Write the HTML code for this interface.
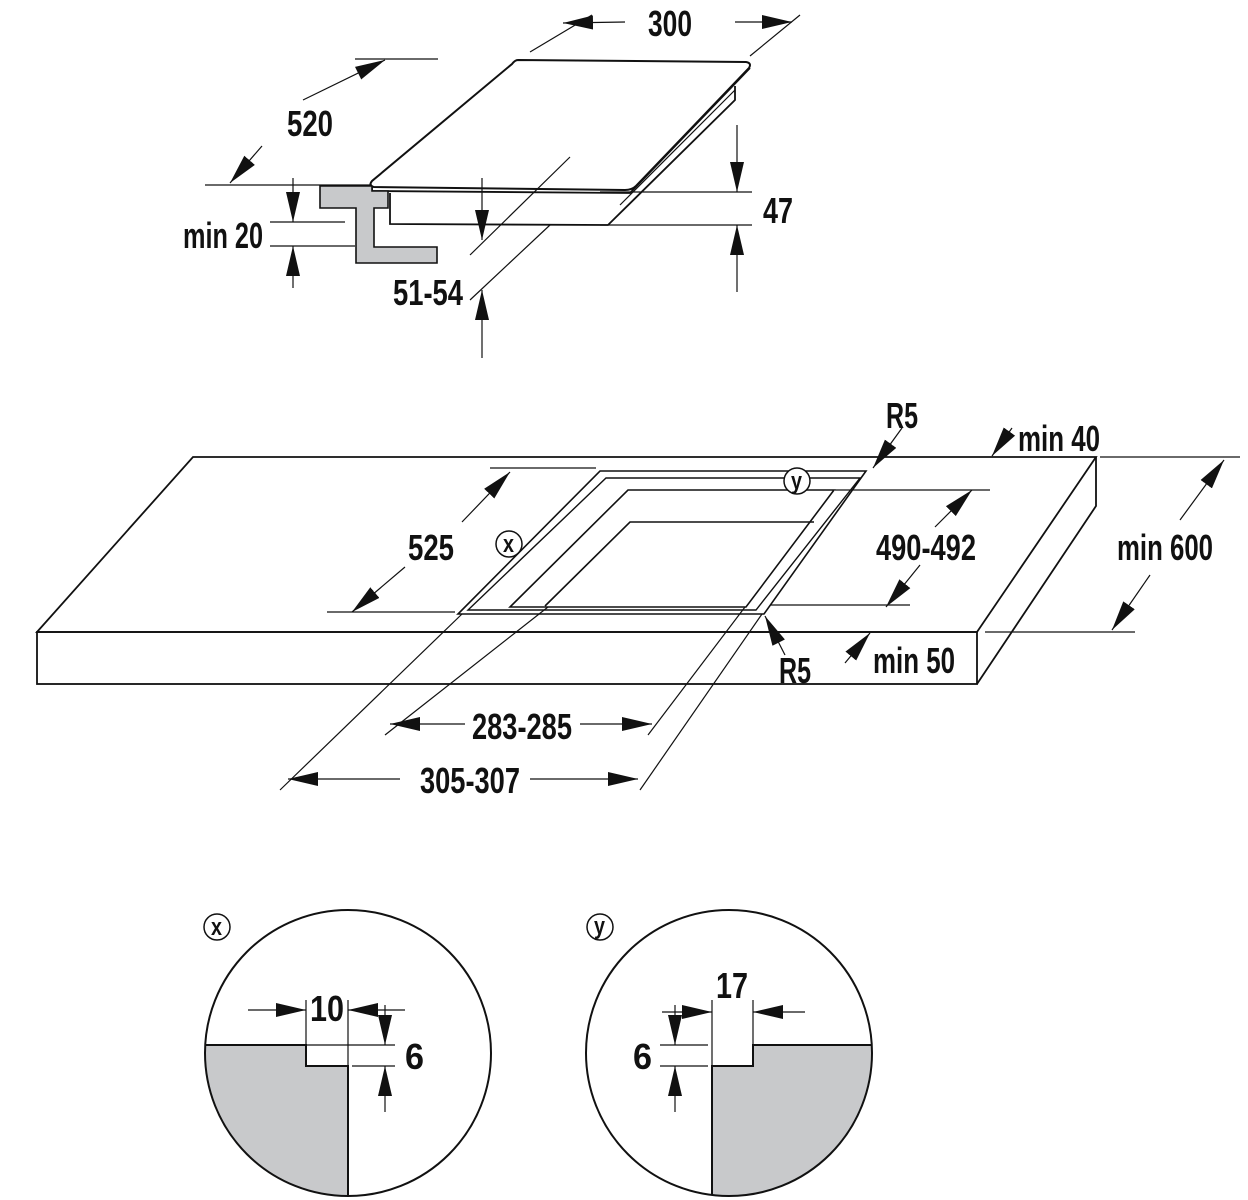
<!DOCTYPE html>
<html><head><meta charset="utf-8"><style>
html,body{margin:0;padding:0;background:#fff;}
svg{display:block;}
text{font-family:"Liberation Sans",sans-serif;font-size:36px;font-weight:bold;fill:#111;}
</style></head><body>
<svg width="1248" height="1200" viewBox="0 0 1248 1200" xmlns="http://www.w3.org/2000/svg">
<defs>
<marker id="a" markerUnits="userSpaceOnUse" markerWidth="32" markerHeight="16" refX="30" refY="8" orient="auto">
<path d="M0,1 L30,8 L0,15 Z" fill="#111"/>
</marker>
</defs>
<g stroke="#111" fill="none" stroke-width="1.2">
<!-- TOP: hob -->
<path d="M518,60 L746,62 Q752,63 749,68 L636,186 Q632,190 625,190 L374,187 Q368,186 372,181 L512,64 Q515,60 518,60 Z" stroke-width="2" fill="#fff"/>
<path d="M372,187 L372,191 L630,193 L750,68" stroke-width="1.8"/>
<path d="M390,193 L390,224 L608,225 L735,100 L735,86" stroke-width="1.8"/>
<path d="M620,205 L735,90" stroke-width="1.2"/>
<path d="M320,186 L372,186 L372,191 L388,191 L388,208 L374,208 L374,247 L437,247 L437,263 L356,263 L356,208 L320,208 Z" fill="#c8c9cb" stroke-width="1.6"/>
<!-- 300 -->
<line x1="530" y1="52" x2="592" y2="15"/>
<line x1="750" y1="56" x2="800" y2="15"/>
<line x1="625" y1="22" x2="563" y2="23" marker-end="url(#a)"/>
<line x1="735" y1="22" x2="792" y2="22" marker-end="url(#a)"/>
<!-- 520 -->
<line x1="355" y1="59" x2="438" y2="59"/>
<line x1="205" y1="185" x2="372" y2="185"/>
<line x1="303" y1="100" x2="385" y2="60" marker-end="url(#a)"/>
<line x1="262" y1="146" x2="230" y2="183" marker-end="url(#a)"/>
<!-- min 20 -->
<line x1="270" y1="222" x2="345" y2="222"/>
<line x1="270" y1="246" x2="355" y2="246"/>
<line x1="293" y1="178" x2="293" y2="222" marker-end="url(#a)"/>
<line x1="293" y1="288" x2="293" y2="246" marker-end="url(#a)"/>
<!-- 47 -->
<line x1="600" y1="192" x2="752" y2="192"/>
<line x1="600" y1="225" x2="752" y2="225"/>
<line x1="737" y1="125" x2="737" y2="192" marker-end="url(#a)"/>
<line x1="737" y1="292" x2="737" y2="225" marker-end="url(#a)"/>
<!-- 51-54 -->
<line x1="570" y1="157" x2="470" y2="255"/>
<line x1="550" y1="225" x2="470" y2="300"/>
<line x1="482" y1="178" x2="482" y2="240" marker-end="url(#a)"/>
<line x1="482" y1="358" x2="482" y2="290" marker-end="url(#a)"/>

<!-- MIDDLE -->
<path d="M193,457 L1096,457 L977,632 L37,632 Z" stroke-width="1.8"/>
<rect x="37" y="632" width="940" height="52" stroke-width="1.8"/>
<path d="M1096,457 L1096,506 L977,684" stroke-width="1.8"/>
<path d="M600,471 L866,471 L764,614 L458,614 Z" stroke-width="1.6"/>
<path d="M606,478 L860,478 L756,610 L468,610 Z" stroke-width="1.4"/>
<path d="M628,490 L834,490 L746,607 L510,607 Z" stroke-width="1.6"/>
<path d="M545,606 L630,522 L814,522" stroke-width="1.6"/>
<circle cx="797" cy="481" r="13" fill="#fff" stroke-width="1.5"/>
<circle cx="509" cy="544" r="13" fill="#fff" stroke-width="1.5"/>
<!-- 525 -->
<line x1="490" y1="468" x2="596" y2="468"/>
<line x1="327" y1="612" x2="455" y2="612"/>
<line x1="462" y1="522" x2="510" y2="472" marker-end="url(#a)"/>
<line x1="405" y1="567" x2="352" y2="612" marker-end="url(#a)"/>
<!-- 490-492 -->
<line x1="835" y1="490" x2="990" y2="490"/>
<line x1="770" y1="605" x2="910" y2="605"/>
<line x1="935" y1="527" x2="972" y2="490" marker-end="url(#a)"/>
<line x1="920" y1="565" x2="886" y2="607" marker-end="url(#a)"/>
<!-- min 600 -->
<line x1="1100" y1="457" x2="1240" y2="457"/>
<line x1="985" y1="632" x2="1135" y2="632"/>
<line x1="1180" y1="520" x2="1224" y2="460" marker-end="url(#a)"/>
<line x1="1150" y1="575" x2="1112" y2="630" marker-end="url(#a)"/>
<line x1="1012" y1="428" x2="992" y2="456" marker-end="url(#a)"/>
<line x1="902" y1="428" x2="873" y2="468" marker-end="url(#a)"/>
<line x1="785" y1="655" x2="765" y2="616" marker-end="url(#a)"/>
<line x1="845" y1="663" x2="870" y2="633" marker-end="url(#a)"/>
<!-- 283-285 -->
<line x1="548" y1="607" x2="385" y2="735"/>
<line x1="745" y1="607" x2="648" y2="735"/>
<line x1="465" y1="724" x2="390" y2="724" marker-end="url(#a)"/>
<line x1="580" y1="724" x2="652" y2="724" marker-end="url(#a)"/>
<!-- 305-307 -->
<line x1="462" y1="614" x2="280" y2="790"/>
<line x1="762" y1="614" x2="640" y2="790"/>
<line x1="400" y1="779" x2="288" y2="779" marker-end="url(#a)"/>
<line x1="530" y1="779" x2="638" y2="779" marker-end="url(#a)"/>

<!-- detail x -->
<path d="M205,1045 L306,1045 L306,1066 L348,1066 L348,1196 A143,143 0 0 1 205,1045 Z" fill="#c8c9cb" stroke="none"/>
<circle cx="348" cy="1053" r="143" stroke-width="2"/>
<path d="M205,1045 L306,1045 L306,1066 L348,1066 L348,1196" stroke-width="2"/>
<line x1="306" y1="1000" x2="306" y2="1045"/>
<line x1="348" y1="1000" x2="348" y2="1066"/>
<line x1="306" y1="1045" x2="395" y2="1045"/>
<line x1="352" y1="1066" x2="395" y2="1066"/>
<line x1="248" y1="1010" x2="306" y2="1010" marker-end="url(#a)"/>
<line x1="405" y1="1010" x2="348" y2="1010" marker-end="url(#a)"/>
<line x1="385" y1="1005" x2="385" y2="1045" marker-end="url(#a)"/>
<line x1="385" y1="1112" x2="385" y2="1066" marker-end="url(#a)"/>
<circle cx="217" cy="927" r="13" fill="#fff" stroke-width="1.5"/>

<!-- detail y -->
<path d="M753,1045 L872,1045 A143,143 0 0 1 712,1195 L712,1066 L753,1066 Z" fill="#c8c9cb" stroke="none"/>
<circle cx="729" cy="1053" r="143" stroke-width="2"/>
<path d="M872,1045 L753,1045 L753,1066 L712,1066 L712,1195" stroke-width="2"/>
<line x1="712" y1="1000" x2="712" y2="1066"/>
<line x1="753" y1="1000" x2="753" y2="1045"/>
<line x1="660" y1="1045" x2="708" y2="1045"/>
<line x1="660" y1="1066" x2="708" y2="1066"/>
<line x1="662" y1="1012" x2="712" y2="1012" marker-end="url(#a)"/>
<line x1="805" y1="1012" x2="753" y2="1012" marker-end="url(#a)"/>
<line x1="675" y1="1005" x2="675" y2="1045" marker-end="url(#a)"/>
<line x1="675" y1="1112" x2="675" y2="1066" marker-end="url(#a)"/>
<circle cx="600" cy="927" r="13" fill="#fff" stroke-width="1.5"/>
</g>

<g>
<text x="648" y="36" textLength="44" lengthAdjust="spacingAndGlyphs">300</text>
<text x="287" y="136" textLength="46" lengthAdjust="spacingAndGlyphs">520</text>
<text x="183" y="248" textLength="80" lengthAdjust="spacingAndGlyphs">min 20</text>
<text x="763" y="223" textLength="30" lengthAdjust="spacingAndGlyphs">47</text>
<text x="393" y="305" textLength="70" lengthAdjust="spacingAndGlyphs">51-54</text>

<text x="886" y="428" textLength="32" lengthAdjust="spacingAndGlyphs">R5</text>
<text x="1018" y="451" textLength="82" lengthAdjust="spacingAndGlyphs">min 40</text>
<text x="408" y="560" textLength="46" lengthAdjust="spacingAndGlyphs">525</text>
<text x="876" y="560" textLength="100" lengthAdjust="spacingAndGlyphs">490-492</text>
<text x="1117" y="560" textLength="96" lengthAdjust="spacingAndGlyphs">min 600</text>
<text x="779" y="683" textLength="32" lengthAdjust="spacingAndGlyphs">R5</text>
<text x="873" y="673" textLength="82" lengthAdjust="spacingAndGlyphs">min 50</text>
<text x="472" y="739" textLength="100" lengthAdjust="spacingAndGlyphs">283-285</text>
<text x="420" y="793" textLength="100" lengthAdjust="spacingAndGlyphs">305-307</text>

<text x="310" y="1021" textLength="34" lengthAdjust="spacingAndGlyphs">10</text>
<text x="405" y="1069" textLength="19" lengthAdjust="spacingAndGlyphs">6</text>
<text x="716" y="998" textLength="32" lengthAdjust="spacingAndGlyphs">17</text>
<text x="633" y="1069" textLength="19" lengthAdjust="spacingAndGlyphs">6</text>

<text x="791" y="489" style="font-size:24px" textLength="11" lengthAdjust="spacingAndGlyphs">y</text>
<text x="503" y="552" style="font-size:24px" textLength="11" lengthAdjust="spacingAndGlyphs">x</text>
<text x="211" y="935" style="font-size:24px" textLength="11" lengthAdjust="spacingAndGlyphs">x</text>
<text x="594" y="934" style="font-size:24px" textLength="11" lengthAdjust="spacingAndGlyphs">y</text>
</g>
</svg>
</body></html>
